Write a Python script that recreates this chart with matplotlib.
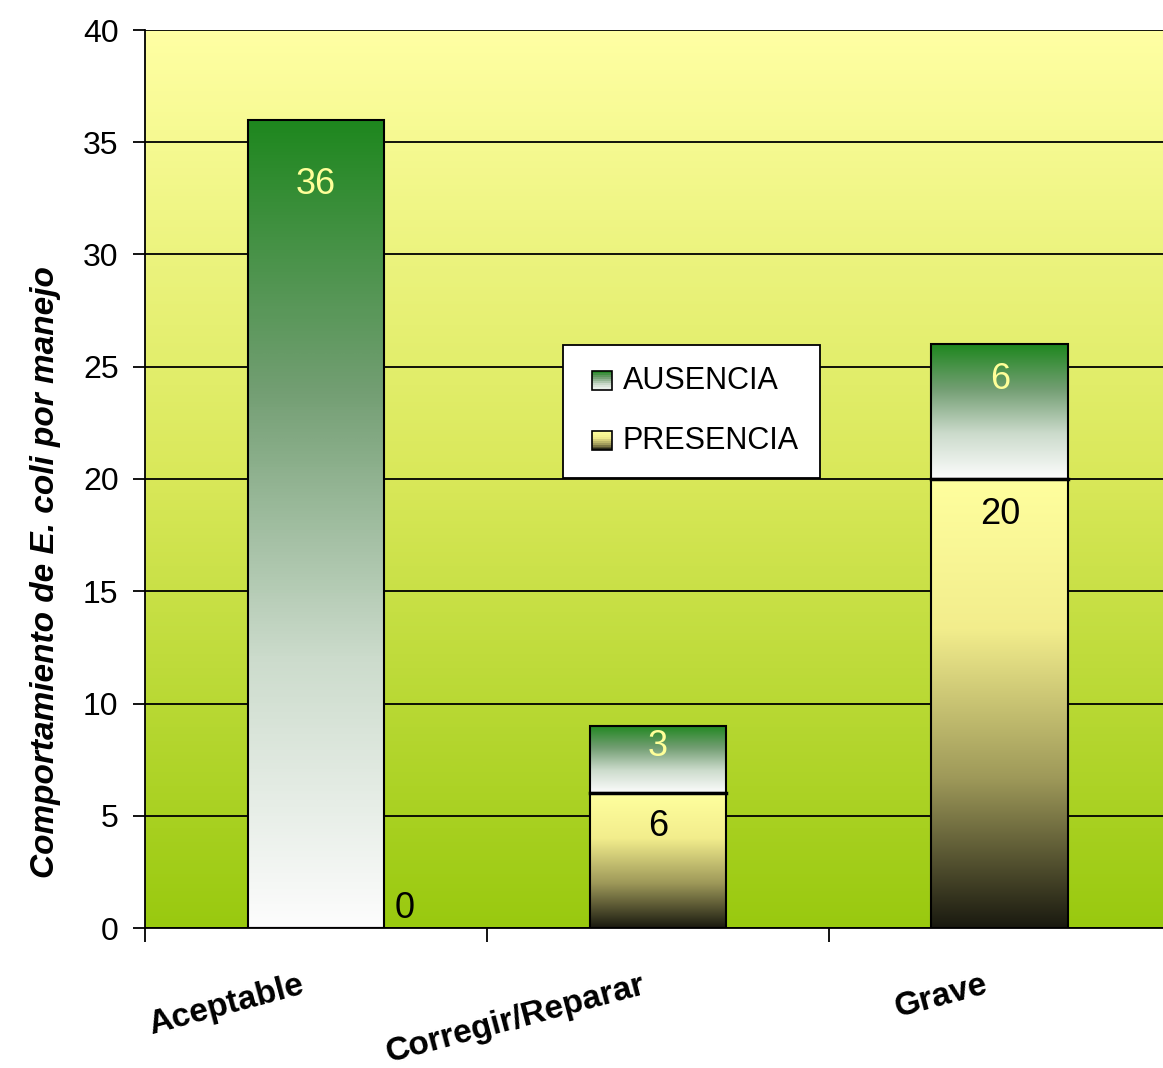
import numpy as np
import matplotlib
matplotlib.use("Agg")
import matplotlib.pyplot as plt
from matplotlib.colors import LinearSegmentedColormap
from matplotlib.patches import Rectangle, Patch
from matplotlib.legend_handler import HandlerBase

# datos
categorias = ["Aceptable", "Corregir/Reparar", "Grave"]
presencia = [0, 6, 20]
ausencia = [36, 3, 6]
series = ["AUSENCIA", "PRESENCIA"]

plt.rcParams['font.family'] = ['Liberation Sans', 'DejaVu Sans']

# gradientes (arriba -> abajo)
cmap_aus = LinearSegmentedColormap.from_list(
    "aus", [(0.12, 0.53, 0.12), (0.45, 0.62, 0.45), (0.80, 0.86, 0.80), (0.99, 0.99, 0.99)])
cmap_pre = LinearSegmentedColormap.from_list(
    "pre", [(1.0, 1.0, 0.62), (0.95, 0.93, 0.55), (0.62, 0.60, 0.35), (0.10, 0.10, 0.06)])
cmap_fondo = LinearSegmentedColormap.from_list(
    "fondo", [(1.0, 1.0, 0.64), (0.85, 0.91, 0.35), (0.60, 0.79, 0.06)])

grad = np.linspace(0, 1, 256).reshape(-1, 1)

fig = plt.figure(figsize=(11.63, 10.68), dpi=100)
ax = fig.add_axes([145 / 1163, 1 - 928 / 1068, 1 - 145 / 1163, 898 / 1068])

# fondo con degradado
ax.imshow(grad, extent=[0, 1, 0, 1], transform=ax.transAxes, cmap=cmap_fondo,
          aspect='auto', interpolation='bilinear', zorder=0)

x = np.arange(len(categorias))
w = 0.4
b_pre = ax.bar(x, presencia, width=w, facecolor='none', edgecolor='black', lw=1.5, zorder=3)
b_aus = ax.bar(x, ausencia, width=w, bottom=presencia, facecolor='none',
               edgecolor='black', lw=1.5, zorder=3)


def rellenar(bars, cmap):
    for r in bars:
        if r.get_height() <= 0:
            continue
        x0, y0 = r.get_x(), r.get_y()
        ax.imshow(grad, extent=[x0, x0 + r.get_width(), y0, y0 + r.get_height()],
                  cmap=cmap, aspect='auto', interpolation='bilinear', zorder=2)


rellenar(b_pre, cmap_pre)
rellenar(b_aus, cmap_aus)

# linea entre segmentos
for r in b_pre:
    if r.get_height() > 0:
        ax.plot([r.get_x(), r.get_x() + r.get_width()], [r.get_height()] * 2,
                color='black', lw=2.5, zorder=4)

ax.set_xlim(-0.5, 2.477)
ax.set_ylim(0, 40)
ax.set_yticks(range(0, 41, 5))
ax.yaxis.grid(True, color='black', lw=1.3)
ax.set_axisbelow(True)

for s in ['top', 'right']:
    ax.spines[s].set_visible(False)
ax.spines['left'].set_linewidth(1.3)
ax.spines['bottom'].set_linewidth(1.3)

ax.set_xticks([-0.5, 0.5, 1.5])
ax.set_xticklabels([])
ax.set_xticks(x - 0.05, minor=True)
ax.set_xticklabels(categorias, minor=True, rotation=15, ha='right', va='top',
                   rotation_mode='anchor', fontweight='bold', fontsize=24)
ax.tick_params(axis='x', which='major', direction='out', length=10, width=1.3)
ax.tick_params(axis='x', which='minor', length=0, pad=30)
ax.tick_params(axis='y', direction='out', length=9, width=1.3, labelsize=23, pad=10)

ax.set_ylabel("Comportamiento de E. coli por manejo", fontsize=24,
              fontweight='bold', style='italic')
ax.yaxis.set_label_coords(-0.083, 0.396)

# etiquetas de valores
off_aus = [-65, -21, -35]
off_pre = [0, -33, -35]
for r, v, o in zip(b_aus, ausencia, off_aus):
    ax.annotate(str(v), (r.get_x() + r.get_width() / 2, r.get_y() + r.get_height()),
                xytext=(0, o * 0.72), textcoords='offset points', ha='center', va='center',
                color='#ffff99', fontsize=26, zorder=5)
for r, v, o in zip(b_pre, presencia, off_pre):
    if v == 0:
        ax.annotate(str(v), (r.get_x() + r.get_width(), 0), xytext=(20 * 0.72, 20 * 0.72),
                    textcoords='offset points', ha='center', va='center',
                    color='black', fontsize=26, zorder=5)
    else:
        ax.annotate(str(v), (r.get_x() + r.get_width() / 2, r.get_height()),
                    xytext=(0, o * 0.72), textcoords='offset points', ha='center',
                    va='center', color='black', fontsize=26, zorder=5)


class HandlerGrad(HandlerBase):
    def __init__(self, cmap):
        super().__init__()
        self.cmap = cmap

    def create_artists(self, legend, orig, xd, yd, width, height, fontsize, trans):
        s = min(width, height)
        x0 = xd + width - s
        y0 = yd + (height - s) / 2
        arts = []
        n = 10
        for i in range(n):
            c = self.cmap((i + 0.5) / n)
            arts.append(Rectangle((x0, y0 + s - (i + 1) * s / n), s, s / n,
                                  facecolor=c, edgecolor='none', transform=trans))
        arts.append(Rectangle((x0, y0), s, s, facecolor='none', edgecolor='black',
                              lw=1.2, transform=trans))
        return arts


h_aus = Patch(label=series[0])
h_pre = Patch(label=series[1])
leg = ax.legend([h_aus, h_pre], series, loc='upper left',
                bbox_to_anchor=((563 - 145) / 1018, (928 - 345) / 898),
                handler_map={h_aus: HandlerGrad(cmap_aus), h_pre: HandlerGrad(cmap_pre)},
                fontsize=22, frameon=True, fancybox=False, edgecolor='black',
                facecolor='white', framealpha=1, handlelength=0.9, handleheight=0.6,
                handletextpad=0.35, labelspacing=0.98, borderpad=0.7, borderaxespad=0)
leg.get_frame().set_linewidth(1.3)
leg.set_zorder(6)

fig.savefig("out.png", dpi=100)
